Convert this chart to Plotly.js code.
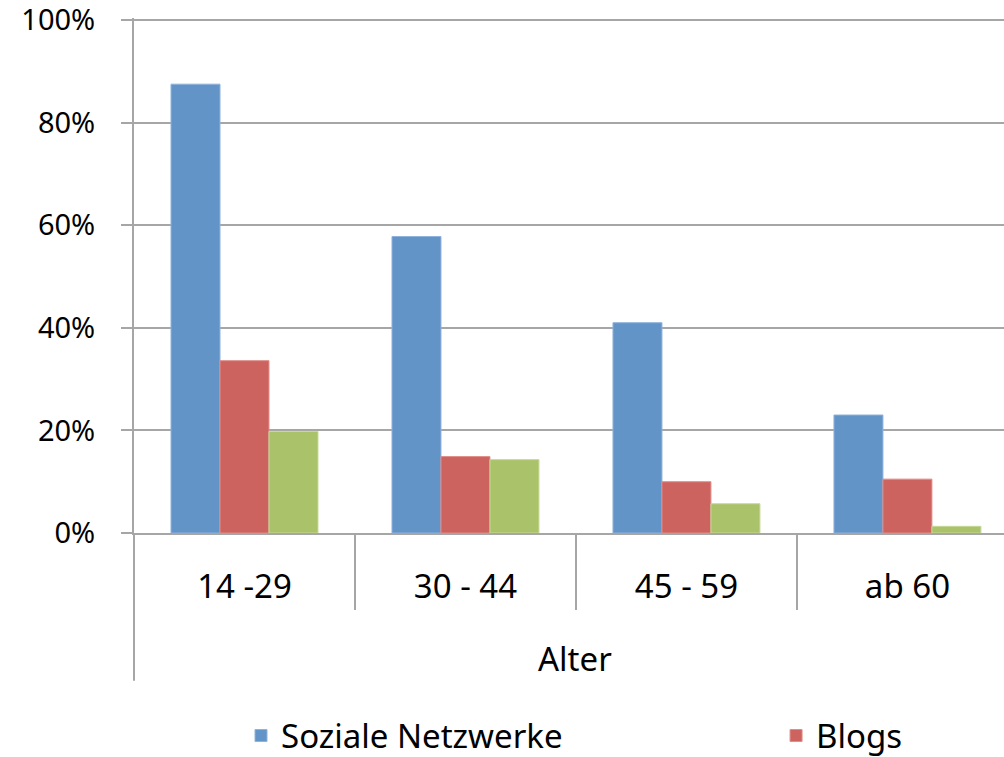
<!DOCTYPE html>
<html>
<head>
<meta charset="utf-8">
<script src="https://cdn.plot.ly/plotly-3.0.1.min.js"></script>
<style>
  html, body { margin: 0; padding: 0; background: #ffffff; }
  #chart { width: 1004px; height: 757px; }
</style>
</head>
<body>
<div id="chart"></div>
<script>
// Data
const categories = ["14 -29", "30 - 44", "45 - 59", "ab 60"];
const sozialeNetzwerke = [87.5, 57.8, 41.0, 23.0];
const blogs = [33.6, 14.9, 10.0, 10.5];
const dritteSerie = [19.8, 14.3, 5.7, 1.3];
const seriesNames = ["Soziale Netzwerke", "Blogs", ""];
const yTicks = [0, 20, 40, 60, 80, 100];
const yTickText = ["0%", "20%", "40%", "60%", "80%", "100%"];
const axisTitle = "Alter";

const FONT = '"Noto Sans", "Open Sans", sans-serif';
const FS = 33;
const GRID = '#a6a6a6';

const traces = [
  { type: 'bar', x: categories, y: sozialeNetzwerke, name: seriesNames[0], legend: 'legend',
    marker: { color: '#6394c8', line: { color: '#8fb2da', width: 1 } } },
  { type: 'bar', x: categories, y: blogs, name: seriesNames[1], legend: 'legend2',
    marker: { color: '#cc635f', line: { color: '#e08d89', width: 1 } } },
  { type: 'bar', x: categories, y: dritteSerie, name: seriesNames[2], showlegend: false,
    marker: { color: '#aac26a', line: { color: '#c6d897', width: 1 } } }
];

const legendBase = {
  orientation: 'h', xanchor: 'left', y: -0.339, yanchor: 'top',
  font: { family: FONT, size: FS, color: '#000' },
  bgcolor: 'rgba(0,0,0,0)'
};

const layout = {
  width: 1004, height: 757,
  margin: { l: 134, r: 0, t: 18, b: 224, autoexpand: false },
  paper_bgcolor: '#ffffff', plot_bgcolor: '#ffffff',
  font: { family: FONT, size: FS, color: '#000000' },
  barmode: 'group',
  bargap: 0.335,
  bargroupgap: 0,
  showlegend: true,
  legend: Object.assign({}, legendBase, { x: 0.123 }),
  legend2: Object.assign({}, legendBase, { x: 0.738 }),
  xaxis: {
    type: 'category',
    range: [-0.5, 3.437],
    showline: true, linecolor: GRID, linewidth: 2,
    ticks: 'outside', tickson: 'boundaries', ticklen: 75, tickwidth: 2, tickcolor: GRID,
    ticklabelstandoff: 23,
    tickfont: { family: FONT, size: FS, color: '#000' },
    showgrid: false, zeroline: false, fixedrange: true
  },
  yaxis: {
    range: [0, 100.4],
    tickmode: 'array',
    tickvals: yTicks,
    ticktext: yTickText,
    ticklabeloverflow: 'allow',
    showgrid: true, gridcolor: GRID, gridwidth: 2,
    showline: true, linecolor: GRID, linewidth: 2,
    ticks: 'outside', ticklen: 11, tickwidth: 2, tickcolor: GRID,
    ticklabelstandoff: 20,
    tickfont: { family: FONT, size: 29, color: '#000' },
    zeroline: false, fixedrange: true
  },
  shapes: [
    { type: 'line', xref: 'paper', yref: 'paper', x0: 0, x1: 0, y0: -0.146, y1: -0.287,
      line: { color: GRID, width: 2 } }
  ],
  annotations: [
    { text: axisTitle, xref: 'paper', yref: 'paper', x: 0.507, y: -0.244,
      xanchor: 'center', yanchor: 'middle', showarrow: false,
      font: { family: FONT, size: FS, color: '#000' } }
  ]
};

Plotly.newPlot('chart', traces, layout, { displayModeBar: false, staticPlot: true });
</script>
</body>
</html>
